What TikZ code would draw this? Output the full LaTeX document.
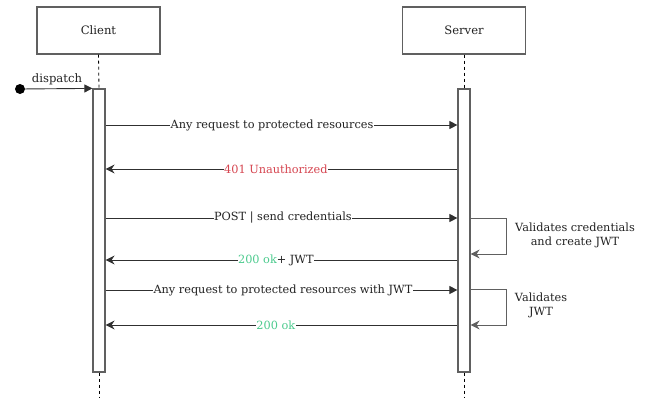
\documentclass[tikz,border=0pt]{standalone}
\usepackage{fontspec}
\setmainfont{DejaVu Serif}
\usetikzlibrary{arrows.meta}
\definecolor{boxline}{HTML}{606060}
\definecolor{msgline}{HTML}{303030}
\definecolor{txtgray}{HTML}{222222}
\definecolor{errred}{HTML}{D64550}
\definecolor{okgreen}{HTML}{4CCB8E}
\tikzset{
  actorbox/.style={draw=boxline, line width=1.2pt, fill=white, minimum width=123pt, minimum height=47pt, inner sep=0pt, text=txtgray, font=\fontsize{11.6}{13}\selectfont},
  actbar/.style={draw=boxline, line width=1.2pt, fill=white, minimum width=12pt, minimum height=283pt, inner sep=0pt},
  lifeline/.style={draw=black, dashed, dash pattern=on 3pt off 3pt, line width=0.8pt},
  callmsg/.style={draw=msgline, line width=0.9pt, -{Triangle[length=8pt,width=8pt]}},
  retmsg/.style={draw=msgline, line width=0.9pt, -{Stealth[length=9pt,width=9pt,inset=3pt]}},
  selfloop/.style={draw=boxline, line width=1pt, -{Stealth[length=9pt,width=9pt,inset=3pt]}},
  msglabel/.style={fill=white, inner sep=0.5pt, text=txtgray, font=\fontsize{11.3}{13}\selectfont},
  notetext/.style={align=center, text=txtgray, font=\fontsize{11.3}{14}\selectfont}
}
\begin{document}
\begin{tikzpicture}[x=1pt,y=-1pt]
\useasboundingbox (0,0) rectangle (650,397);
% actors
\node[actorbox] (client) at (98.5,30.5) {Client};
\node[actorbox] (server) at (464,30.5) {Server};
% activation bars
\node[actbar] (cact) at (99,230.5) {};
\node[actbar] (sact) at (464,230.5) {};
\coordinate (cend) at (99,397);
\coordinate (send) at (464,397);
\draw[lifeline] (client.south) -- (cact.north);
\draw[lifeline] (server.south) -- (sact.north);
\draw[lifeline] (cact.south) -- (cend);
\draw[lifeline] (sact.south) -- (send);
% dispatch
\node[circle, fill=black, inner sep=0pt, minimum size=10pt] (start) at (20,89) {};
\draw[callmsg] (start) -- (cact.north west);
\node[text=txtgray, font=\fontsize{11.6}{13}\selectfont] (dlabel) at (57,79) {dispatch};
% messages
\draw[callmsg] (cact.east |- 0,125) -- node[msglabel, pos=0.473] (m1) {Any request to protected resources} (sact.west |- 0,125);
\draw[retmsg] (sact.west |- 0,169) -- node[msglabel, pos=0.516, text=errred] (m2) {401 Unauthorized} (cact.east |- 0,169);
\draw[callmsg] (cact.east |- 0,218) -- node[msglabel, pos=0.504] (m3) {POST | send credentials} (sact.west |- 0,218);
\draw[retmsg] (sact.west |- 0,260) -- node[msglabel, pos=0.516] (m4) {\textcolor{okgreen}{200 ok}+ JWT} (cact.east |- 0,260);
\draw[callmsg] (cact.east |- 0,290) -- node[msglabel, pos=0.504] (m5) {Any request to protected resources with JWT} (sact.west |- 0,290);
\draw[retmsg] (sact.west |- 0,325) -- node[msglabel, pos=0.516, text=okgreen] (m6) {200 ok} (cact.east |- 0,325);
% self loops
\draw[selfloop] (sact.east |- 0,218) -- ++(36,0) -- ++(0,36) -- (sact.east |- 0,254);
\node[notetext] (n1) at (575,235) {Validates credentials\\and create JWT};
\draw[selfloop] (sact.east |- 0,289) -- ++(36,0) -- ++(0,36) -- (sact.east |- 0,325);
\node[notetext] (n2) at (541,305) {Validates\\JWT};
\end{tikzpicture}
\end{document}
